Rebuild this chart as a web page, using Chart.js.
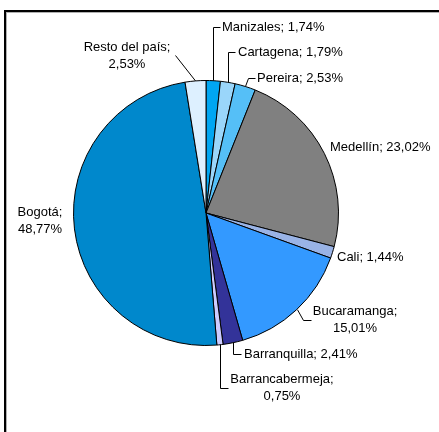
<!DOCTYPE html>
<html>
<head>
<meta charset="utf-8">
<script src="https://cdn.jsdelivr.net/npm/chart.js@4/dist/chart.umd.min.js"></script>
<style>
html,body{margin:0;padding:0;background:#fff;}
#wrap{position:relative;width:439px;height:432px;}
</style>
</head>
<body>
<div id="wrap"><canvas id="c" width="439" height="432"></canvas></div>
<script>
const categories = ["Manizales","Cartagena","Pereira","Medellín","Cali","Bucaramanga","Barranquilla","Barrancabermeja","Bogotá","Resto del país"];
const shares = [1.74,1.79,2.53,23.02,1.44,15.01,2.41,0.75,48.77,2.53];
const colors = ["#00A6F2","#9AD6FA","#55BFF7","#808080","#99B3E6","#3399FF","#333399","#CCCCFF","#0088CC","#DDF0FF"];

// label layout: text block anchor, alignment, two-line split, leader elbow points
const labelLayout = [
  {x:222,y:27,align:"left",split:false,path:[[213,27],[220,27]]},
  {x:238,y:52,align:"left",split:false,path:[[228,52],[235,52]]},
  {x:257,y:78,align:"left",split:false,path:[[248,78],[255,78]]},
  {x:330,y:147,align:"left",split:false,path:null},
  {x:337,y:257,align:"left",split:false,path:null},
  {x:355,y:320,align:"center",split:true,path:[[303,320],[311,320]]},
  {x:244,y:354,align:"left",split:false,path:[[233,354],[241,354]]},
  {x:282,y:388,align:"center",split:true,path:[[220,388],[228,388]]},
  {x:40,y:221,align:"center",split:true,path:null},
  {x:127,y:56,align:"center",split:true,path:[[175,55]]}
];

function fmt(v){ return v.toFixed(2).replace(".", ","); }

const labelPlugin = {
  id: "labels",
  beforeDraw(chart){
    const ctx = chart.ctx;
    ctx.save();
    ctx.strokeStyle = "#b0b0b0";
    ctx.lineWidth = 1;
    ctx.beginPath();
    ctx.moveTo(7, 12.5); ctx.lineTo(439, 12.5);
    ctx.moveTo(6.5, 12); ctx.lineTo(6.5, 432);
    ctx.stroke();
    ctx.strokeStyle = "#000";
    ctx.lineWidth = 2;
    ctx.beginPath();
    ctx.moveTo(4, 11); ctx.lineTo(439, 11);
    ctx.moveTo(5, 10); ctx.lineTo(5, 432);
    ctx.stroke();
    ctx.restore();
  },
  afterDraw(chart){
    const ctx = chart.ctx;
    const meta = chart.getDatasetMeta(0);
    ctx.save();
    ctx.font = "13px 'Liberation Sans', Arial, sans-serif";
    ctx.fillStyle = "#000";
    ctx.strokeStyle = "#000";
    ctx.lineWidth = 1;
    ctx.textBaseline = "middle";
    meta.data.forEach((arc, i) => {
      const L = labelLayout[i];
      const mid = (arc.startAngle + arc.endAngle) / 2;
      const r = arc.outerRadius;
      const ex = arc.x + Math.cos(mid) * r;
      const ey = arc.y + Math.sin(mid) * r;
      if (L.path) {
        ctx.beginPath();
        ctx.moveTo(Math.round(ex)+0.5, ey);
        L.path.forEach(p => ctx.lineTo(p[0]+0.5, p[1]+0.5));
        ctx.stroke();
      }
      const txt = categories[i] + ";";
      const val = fmt(shares[i]) + "%";
      if (L.split) {
        ctx.textAlign = "center";
        ctx.fillText(txt, L.x, L.y - 8.5);
        ctx.fillText(val, L.x, L.y + 8.5);
      } else {
        ctx.textAlign = L.align;
        ctx.fillText(txt + " " + val, L.x, L.y);
      }
    });
    ctx.restore();
  }
};

new Chart(document.getElementById("c"), {
  type: "pie",
  data: {
    labels: categories,
    datasets: [{
      data: shares,
      backgroundColor: colors,
      borderColor: "#000",
      borderWidth: 1
    }]
  },
  options: {
    responsive: false,
    animation: false,
    layout: { padding: { left: 73, right: 100, top: 80, bottom: 86 } },
    plugins: { legend: { display: false }, tooltip: { enabled: false } }
  },
  plugins: [labelPlugin]
});
</script>
</body>
</html>
